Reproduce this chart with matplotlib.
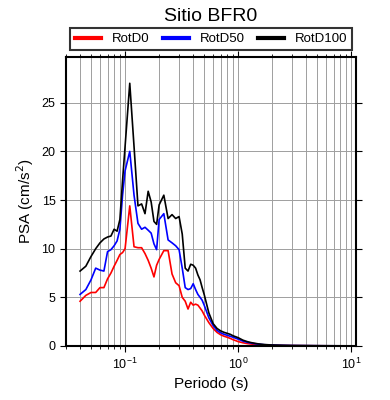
import matplotlib
matplotlib.use("Agg")
import matplotlib.pyplot as plt
from matplotlib.ticker import LogLocator, NullFormatter

plt.rcParams['font.family'] = ['Liberation Sans', 'DejaVu Sans']

# periods (s)
periods = [0.04, 0.045, 0.05, 0.055, 0.06, 0.065, 0.07, 0.075, 0.08, 0.085,
           0.09, 0.095, 0.1, 0.11, 0.12, 0.13, 0.14, 0.15, 0.16, 0.17,
           0.18, 0.19, 0.2, 0.22, 0.24, 0.26, 0.28, 0.3, 0.32, 0.34,
           0.36, 0.38, 0.4, 0.42, 0.44, 0.46, 0.48, 0.5, 0.55, 0.6,
           0.65, 0.7, 0.75, 0.8, 0.85, 0.9, 0.95, 1.0, 1.1, 1.2,
           1.3, 1.4, 1.5, 1.7, 2.0, 2.5, 3.0, 4.0, 5.0, 6.0,
           7.5, 10.0]

rotd0 = [4.6, 5.2, 5.5, 5.5, 6.0, 6.0, 6.9, 7.5, 8.2, 8.8,
         9.4, 9.6, 10.0, 14.4, 10.2, 10.1, 10.1, 9.5, 8.8, 8.0,
         7.1, 8.3, 8.9, 9.8, 9.8, 7.4, 6.5, 6.2, 5.0, 4.6,
         3.8, 4.5, 4.2, 4.3, 4.2, 3.9, 3.6, 3.2, 2.4, 1.8,
         1.4, 1.15, 1.0, 0.9, 0.78, 0.65, 0.55, 0.45, 0.33, 0.25,
         0.2, 0.17, 0.14, 0.1, 0.07, 0.05, 0.04, 0.03, 0.024, 0.02,
         0.015, 0.01]

rotd50 = [5.3, 5.8, 6.8, 8.0, 7.8, 7.7, 9.7, 9.9, 10.3, 10.8,
          12.0, 15.5, 18.0, 20.0, 15.5, 12.6, 12.0, 12.2, 11.9, 11.6,
          10.5, 9.9, 13.0, 13.6, 10.9, 10.6, 10.3, 9.9, 8.0, 6.0,
          5.8, 5.9, 6.4, 5.8, 5.3, 5.0, 4.7, 4.2, 2.9, 2.1,
          1.6, 1.35, 1.2, 1.1, 1.0, 0.9, 0.8, 0.7, 0.5, 0.38,
          0.3, 0.24, 0.19, 0.13, 0.09, 0.06, 0.045, 0.035, 0.028, 0.022,
          0.018, 0.013]

rotd100 = [7.7, 8.2, 9.2, 10.0, 10.6, 11.0, 11.2, 11.3, 12.0, 11.8,
           13.0, 17.0, 20.5, 27.0, 20.5, 14.4, 14.6, 13.6, 15.9, 14.8,
           12.8, 12.5, 14.5, 15.5, 13.1, 13.5, 13.1, 13.3, 11.5, 8.0,
           7.7, 8.4, 8.3, 8.0, 7.3, 6.8, 6.0, 5.3, 3.4, 2.3,
           1.8, 1.55, 1.4, 1.3, 1.2, 1.05, 0.95, 0.85, 0.6, 0.45,
           0.35, 0.28, 0.22, 0.15, 0.1, 0.07, 0.05, 0.04, 0.03, 0.025,
           0.02, 0.015]

fig = plt.figure(figsize=(3.9, 4.0), dpi=100)
ax = fig.add_axes([0.169, 0.135, 0.744, 0.7225])

ax.plot(periods, rotd0, color='red', lw=1.2, label='RotD0')
ax.plot(periods, rotd50, color='blue', lw=1.2, label='RotD50')
ax.plot(periods, rotd100, color='black', lw=1.2, label='RotD100')

ax.set_xscale('log')
ax.set_xlim(0.03, 11)
ax.set_ylim(0, 1.1 * max(rotd100))
ax.xaxis.set_major_locator(LogLocator(base=10))
ax.xaxis.set_minor_locator(LogLocator(base=10, subs=range(2, 10)))
ax.xaxis.set_minor_formatter(NullFormatter())
ax.set_yticks([0, 5, 10, 15, 20, 25])

ax.grid(True, which='both', axis='x', color='0.62', lw=0.7)
ax.grid(True, which='major', axis='y', color='0.62', lw=0.7)
ax.set_axisbelow(True)

ax.tick_params(which='both', direction='out', top=True, right=True, labelsize=9)
ax.tick_params(which='major', length=4, width=0.8)
ax.tick_params(which='minor', length=2.5, width=0.6)
for s in ax.spines.values():
    s.set_linewidth(1.5)

ax.set_xlabel('Periodo (s)', fontsize=11)
ax.set_ylabel('PSA (cm/s$^2$)', fontsize=11)
ax.set_title('Sitio BFR0', fontsize=14, pad=26)

leg = ax.legend(loc='lower center', bbox_to_anchor=(0.5, 1.025), ncol=3,
                fontsize=9.5, fancybox=False, edgecolor='black',
                handlelength=2.0, columnspacing=1.0, handletextpad=0.8,
                borderpad=0.35, borderaxespad=0.0)
leg.get_frame().set_linewidth(1.5)
for h in leg.get_lines():
    h.set_linewidth(3)

fig.savefig('out.png', dpi=100)
